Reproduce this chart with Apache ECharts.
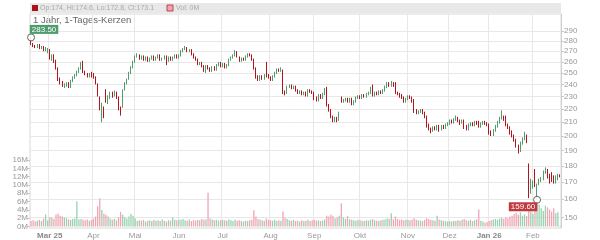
<!DOCTYPE html>
<html><head><meta charset="utf-8">
<script src="https://cdn.jsdelivr.net/npm/echarts@6/dist/echarts.min.js"></script>
<style>html,body{margin:0;padding:0;background:#fff}#c{width:600px;height:240px}</style>
</head><body><div id="c"></div>
<script>
// ---------- DATA ----------
const startDate = '2025-02-18';
const endDate = '2026-02-19';
const holidays = ['2025-04-18','2025-04-21','2025-05-01','2025-12-24','2025-12-25','2025-12-26','2025-12-31','2026-01-01'];
const monthLabels = {'2025-03':'Mar 25','2025-04':'Apr','2025-05':'Mai','2025-06':'Jun','2025-07':'Jul','2025-08':'Aug','2025-09':'Sep','2025-10':'Okt','2025-11':'Nov','2025-12':'Dez','2026-01':'Jan 26','2026-02':'Feb'};
const boldLabels = ['Mar 25','Jan 26'];
const priceTicks = [150,160,170,180,190,200,210,220,230,240,250,260,270,280,290];

const opens = [
283,277,275,274,276,273,274,271,270,
271,263,266,261,254,244,242,239,240,241,238,243,246,248,251,254,260,251,249,247,249,
248,246,240,229,213,221,235,226,230,233,231,233,229,220,222,236,241,245,250,255,
260,265,266,263,265,262,264,261,263,265,262,264,266,262,263,265,261,264,262,264,266,
264,266,270,272,273,270,271,267,264,262,258,259,256,252,256,254,252,255,253,257,259,
256,258,255,257,262,264,266,269,264,261,263,262,265,267,266,262,254,247,244,247,245,258,248,
246,244,247,250,253,252,252,234,233,238,239,237,238,235,233,234,232,233,231,235,234,
233,229,227,231,229,232,236,223,219,214,211,213,212,229,226,227,228,226,228,224,226,229,
230,229,231,230,232,233,238,231,233,232,234,233,235,238,241,239,241,241,233,232,231,229,226,
228,230,229,227,219,217,218,219,217,214,208,205,204,206,205,207,205,207,206,208,
209,211,210,212,213,211,210,211,207,205,208,209,208,210,210,207,209,210,209,
208,203,201,204,207,210,213,214,214,208,206,203,200,197,193,190,195,198,200,180,166,
168,177,166,169,171,172,176,177,174,175,173,170,172,174
];
const closes = [
277,275,274,276,273,274,271,273,272,
263,266,260,254,244,242,239,240,241,238,243,246,248,251,254,259,251,249,247,249,248,
247,241,231,221,223,216,227,230,233,231,233,229,221,217,235,241,244,250,255,260,
265,266,263,265,262,264,261,263,265,262,264,266,262,263,265,261,264,262,264,266,264,
266,270,272,273,270,271,267,264,262,258,259,256,252,256,254,252,255,253,257,259,256,
258,255,257,262,264,266,269,265,261,263,262,265,267,266,262,254,246,244,247,245,248,248,246,
244,247,250,253,252,254,234,232,238,239,237,238,235,233,234,232,233,231,235,234,233,
228,227,231,229,232,236,223,219,214,211,213,211,217,226,227,228,226,228,224,226,229,230,
229,231,230,232,233,237,231,233,232,234,233,235,238,241,239,241,239,233,232,231,229,226,228,
230,229,226,219,217,218,219,218,214,208,206,204,206,205,207,205,207,206,208,209,
211,210,212,213,211,210,211,207,205,208,209,208,210,209,207,209,210,209,208,
203,201,204,207,210,213,214,213,208,206,202,200,197,193,190,195,198,201,196,162,170,
170,168,168,171,172,176,178,173,170,171,170,173,174.5,173.1
];
const lows = [
276,274,273,273,272,272,270,270,268,
262,261,259,253,243,240,238,237,238,237,237,242,245,247,250,253,250,248,246,246,246,
245,240,230,219,210,213,225,224,228,229,230,228,219,215,221,235,240,244,249,254,
259,264,262,262,261,261,260,260,262,261,261,263,261,261,262,257,260,261,261,263,263,
263,265,269,271,269,269,266,263,261,257,257,255,251,250,253,251,251,252,252,256,255,
255,254,254,256,261,263,265,264,260,260,261,261,264,265,261,253,245,243,243,244,244,246,245,
243,243,246,249,251,251,232,231,232,237,236,236,234,232,232,231,231,230,230,233,232,
227,226,226,228,228,231,222,218,213,210,210,210,211,225,225,226,225,225,223,223,225,228,
228,228,229,229,231,232,230,230,231,231,232,232,234,237,238,238,238,232,231,229,228,225,225,
227,228,225,217,216,216,217,216,213,206,204,202,203,204,204,203,204,205,205,207,
208,209,209,211,210,208,209,205,204,204,207,207,207,208,206,206,208,208,207,
201,200,200,203,206,209,212,211,207,205,201,199,196,192,188,189,194,197,195,160.5,163,
166,167,159.6,168,170,171,175,172,169,170,169,169,171,172.8
];
const highs = [
283.5,278,276,277,277,275,275,274,273,
272,267,267,262,255,246,243,241,242,242,244,247,249,252,255,260,261,252,250,250,251,
250,247,241,230,225,222,236,231,234,234,235,234,230,222,236,242,245,251,256,261,
266,268,267,266,266,265,265,264,266,266,265,267,267,264,266,266,265,265,265,267,267,
267,271,273,275,274,272,272,268,265,263,260,260,257,257,257,255,256,256,258,260,260,
259,259,258,263,265,267,271,270,265,264,264,266,268,268,267,263,255,248,248,248,249,260,249,
247,248,251,254,254,255,253,235,239,240,240,239,239,236,235,235,234,234,236,236,235,
234,230,232,232,233,237,238,224,220,215,214,214,218,230,228,229,229,229,229,227,230,231,
231,232,232,233,234,238,240,234,234,235,235,236,239,242,242,243,242,242,234,233,232,230,229,
231,231,230,228,220,219,220,220,218,215,209,206,207,207,208,208,208,208,209,210,
212,212,213,215,214,212,212,212,208,209,210,210,211,211,211,210,211,211,210,
209,204,205,208,211,214,219,215,215,209,207,204,201,198,194,196,199,203,201,181.5,172,
171,178,169,172,173,177,179,178,175,176,174,174,175,174.6
];
const volumesM = [
1.3,1.5,1.2,1.4,1.6,1.3,1.9,2.9,1.5,
2.2,2.1,1.8,2.9,3.1,2.6,2.4,2.2,2.0,1.7,1.6,1.8,1.9,6.1,1.7,1.8,1.6,1.5,1.7,1.4,1.6,
1.9,2.4,4.9,6.8,4.0,3.1,2.8,2.4,1.9,1.6,1.8,1.5,2.2,3.5,2.8,2.3,1.9,2.4,3.0,2.6,
2.0,1.3,1.5,1.4,1.6,1.2,1.4,1.5,1.3,1.6,1.4,1.5,1.3,1.7,1.4,1.2,1.5,1.4,2.2,1.6,1.5,
1.6,1.6,1.8,1.5,1.4,1.7,1.3,1.5,1.4,1.6,1.5,1.8,1.6,1.7,8.1,1.9,1.7,1.5,1.6,1.4,1.5,
1.6,1.5,1.4,1.7,1.5,1.3,1.6,1.4,1.5,1.3,1.2,1.4,1.3,1.5,1.6,3.9,2.4,1.8,1.6,1.5,1.4,1.9,1.6,
1.5,1.4,1.6,1.3,1.5,1.4,3.6,2.1,1.8,1.5,1.4,1.6,1.3,1.4,1.2,1.5,1.3,1.4,1.6,1.3,1.5,
1.6,1.4,1.5,1.3,1.4,1.7,2.6,2.4,2.8,2.5,2.0,2.2,2.6,5.6,2.2,1.8,2.5,1.7,1.6,1.5,1.4,1.6,
1.5,1.4,1.3,1.5,1.4,1.6,1.8,1.5,1.4,1.3,1.5,1.6,1.7,1.9,1.8,3.2,1.7,2.4,1.8,1.6,1.7,1.5,1.6,
1.6,1.5,1.7,2.0,1.6,1.5,1.4,1.3,1.6,2.0,1.8,1.6,1.5,1.4,2.6,1.7,1.5,1.4,1.3,1.2,
1.3,1.2,1.4,1.3,1.5,1.4,1.6,1.8,1.5,1.4,1.6,1.3,1.5,1.7,4.1,1.4,1.2,0.9,1.1,
1.3,1.5,1.7,1.8,1.6,1.9,2.1,1.8,2.3,2.0,2.4,2.6,3.0,3.3,2.8,3.4,2.6,2.9,2.5,5.2,3.6,
3.0,4.2,5.7,5.3,4.4,3.8,5.0,4.6,4.1,3.6,4.4,3.2,3.4,0.2
];

// ---------- BUILD ----------
function fmt(d){return d.toISOString().slice(0,10);}
const dates = [];
for (let d = new Date(startDate+'T00:00:00Z'); fmt(d) <= endDate; d.setUTCDate(d.getUTCDate()+1)) {
  const wd = d.getUTCDay(); const s = fmt(d);
  if (wd === 0 || wd === 6 || holidays.includes(s)) continue;
  dates.push(s);
}
const monthStart = dates.map((s,i)=> i>0 && s.slice(0,7)!==dates[i-1].slice(0,7) && !!monthLabels[s.slice(0,7)]);

const L = Math.log;
const candleData = dates.map((s,i)=>[L(opens[i]),L(closes[i]),L(lows[i]),L(highs[i])]);
const up = dates.map((s,i)=>closes[i]>=opens[i]);
const UP='#4f9d6d', DOWN='#b3141c', VUP='#98d1b0', VDOWN='#f0a5b3';

let maxI=0,minI=0;
highs.forEach((v,i)=>{if(v>highs[maxI])maxI=i;});
lows.forEach((v,i)=>{if(v<lows[minI])minI=i;});

const n = dates.length-1;
const FONT='Liberation Sans, Arial, sans-serif';
const chart = echarts.init(document.getElementById('c'), null, {renderer:'canvas'});
const pxPerLn = (L(290)-L(150))/(217.3-31);
const yMax = L(290) + (31-14)*pxPerLn;
const yMin = L(150) - (228-217.3)*pxPerLn;

chart.setOption({
  animation:false,
  textStyle:{fontFamily:FONT},
  grid:[
    {left:30,right:39,top:14,bottom:12,show:true,borderColor:'#d8d8d8',borderWidth:1,backgroundColor:'transparent'},
    {left:30,right:39,top:160,bottom:13.5}
  ],
  xAxis:[
    {type:'category',gridIndex:0,data:dates,boundaryGap:true,
     axisLine:{show:false},axisTick:{show:false},
     axisLabel:{show:true,interval:(i)=>monthStart[i],margin:4,fontSize:8,color:'#999',fontFamily:FONT,
       formatter:(v)=>{const t=monthLabels[v.slice(0,7)];return boldLabels.includes(t)?'{b|'+t+'}':t;},
       rich:{b:{fontWeight:'bold',fontSize:8,color:'#888',fontFamily:FONT}}},
     splitLine:{show:true,interval:(i)=>monthStart[i],lineStyle:{color:'#e8e8e8',width:1}}},
    {type:'category',gridIndex:1,data:dates,boundaryGap:true,show:false}
  ],
  yAxis:[
    {type:'value',gridIndex:0,position:'right',min:yMin,max:yMax,scale:true,
     axisLine:{show:true,lineStyle:{color:'#d0d0d0'}},
     axisTick:{show:true,length:3,customValues:priceTicks.map(L),lineStyle:{color:'#c8c8c8'}},
     axisLabel:{show:true,customValues:priceTicks.map(L),margin:3,fontSize:8,color:'#999',fontFamily:FONT,
       formatter:(v)=>String(Math.round(Math.exp(v)))},
     splitLine:{show:true,lineStyle:{color:'#e8e8e8',width:1}}},
    {type:'value',gridIndex:1,position:'left',min:0,max:16,interval:2,
     axisLine:{show:false},axisTick:{show:true,length:3,lineStyle:{color:'#c8c8c8'}},
     axisLabel:{margin:2,fontSize:8,color:'#999',fontFamily:FONT,formatter:(v)=>v+'M'},
     splitLine:{show:false}}
  ],
  series:[
    {type:'bar',xAxisIndex:1,yAxisIndex:1,barWidth:'62%',
     data:volumesM.map((v,i)=>({value:v,itemStyle:{color:up[i]?VUP:VDOWN}})),z:1},
    {type:'candlestick',xAxisIndex:0,yAxisIndex:0,barWidth:'60%',data:candleData,z:3,
     itemStyle:{color:UP,color0:DOWN,borderColor:UP,borderColor0:DOWN,borderWidth:1},
     markPoint:{symbol:'circle',symbolSize:7,animation:false,
       itemStyle:{color:'rgba(255,255,255,0.9)',borderColor:'#666',borderWidth:1},
       data:[
         {coord:[maxI,L(highs[maxI])],label:{show:true,position:'inside',offset:[13,-8],formatter:highs[maxI].toFixed(2),
           backgroundColor:'#4f9d6d',color:'#fff',fontSize:8,padding:[1,2,0,2],fontFamily:FONT}},
         {coord:[minI,L(lows[minI])],label:{show:true,position:'inside',offset:[-14,7],formatter:lows[minI].toFixed(2),
           backgroundColor:'#c0393f',color:'#fff',fontSize:8,padding:[1,2,0,2],fontFamily:FONT}}
       ]}}
  ],
  graphic:[
    {type:'rect',shape:{x:30,y:3,width:531,height:10},style:{fill:'#e8e8e8'},silent:true},
    {type:'rect',shape:{x:32,y:5,width:6,height:6},style:{fill:'#a8141a'}},
    {type:'text',x:40,y:8,style:{text:'Op:'+opens[n]+', Hi:'+highs[n]+', Lo:'+lows[n]+', Cl:'+closes[n],fontSize:7,fill:'#aaa',fontFamily:FONT,verticalAlign:'middle'}},
    {type:'rect',shape:{x:167,y:5,width:6,height:6},style:{fill:VDOWN,stroke:'#c04050',lineWidth:1}},
    {type:'text',x:176,y:8,style:{text:'Vol: '+Math.round(volumesM[n])+'M',fontSize:7,fill:'#aaa',fontFamily:FONT,verticalAlign:'middle'}},
    {type:'text',x:33,y:20,style:{text:'1 Jahr, 1-Tages-Kerzen',fontSize:9.5,fill:'#666',fontFamily:FONT,verticalAlign:'middle'}}
  ]
});
</script></body></html>
